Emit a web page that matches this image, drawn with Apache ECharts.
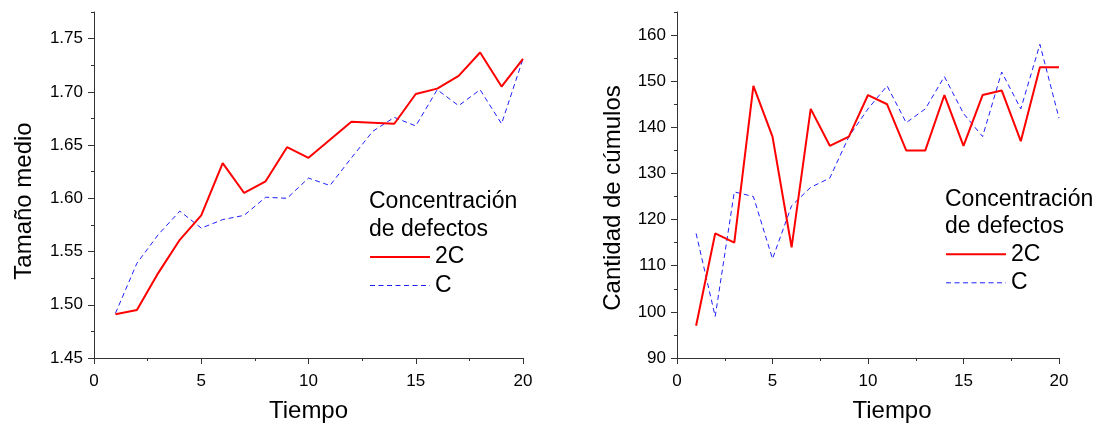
<!DOCTYPE html>
<html>
<head>
<meta charset="utf-8">
<script src="https://cdn.jsdelivr.net/npm/echarts@6/dist/echarts.min.js"></script>
<style>
  html, body { margin: 0; padding: 0; background: #fff; }
  #chart { width: 1101px; height: 426px; }
</style>
</head>
<body>
<div id="chart"></div>
<script>
// Time steps shared by both panels
const tiempo = [1, 2, 3, 4, 5, 6, 7, 8, 9, 10, 11, 12, 13, 14, 15, 16, 17, 18, 19, 20];

// Mean cluster size for each defect concentration
const tamano2C = [1.491, 1.495, 1.530, 1.561, 1.584, 1.633, 1.605, 1.616, 1.648, 1.638,
                  1.655, 1.672, 1.671, 1.670, 1.698, 1.703, 1.715, 1.737, 1.705, 1.731];
const tamanoC  = [1.492, 1.539, 1.566, 1.588, 1.572, 1.580, 1.584, 1.601, 1.600, 1.619,
                  1.612, 1.638, 1.663, 1.676, 1.668, 1.702, 1.687, 1.702, 1.670, 1.731];

// Number of clusters for each defect concentration
const cumulos2C = [97, 117, 115, 149, 138, 114, 144, 136, 138, 147,
                   145, 135, 135, 147, 136, 147, 148, 137, 153, 153];
const cumulosC  = [117, 99, 126, 125, 111.5, 123, 127, 129, 138, 144,
                   149, 141, 144, 151, 143, 138, 152, 144, 158, 142];

// Labelled (major) ticks
const xTicks = [0, 5, 10, 15, 20];
const yTicksTamano = [1.45, 1.50, 1.55, 1.60, 1.65, 1.70, 1.75];
const yTicksCumulos = [90, 100, 110, 120, 130, 140, 150, 160];

const serieNames = ['2C', 'C'];
const legendHeading = 'Concentración\nde defectos';
const xTitle = 'Tiempo';
const yTitles = ['Tamaño medio', 'Cantidad de cúmulos'];

const FONT = '"Liberation Sans", Arial, Helvetica, sans-serif';
const AXIS_COLOR = '#333';
const RED = '#ff0000';
const BLUE = '#1f1fff';

const pairs = (xs, ys) => xs.map((x, i) => [x, ys[i]]);
// Unlabelled ticks half way after each labelled one
const halfSteps = ticks => ticks.map((t, i) => {
  const step = i < ticks.length - 1 ? ticks[i + 1] - t : t - ticks[i - 1];
  return +(t + step / 2).toFixed(6);
});

function xAxisCfg(gridIndex, shift) {
  return {
    type: 'value', gridIndex, position: 'bottom',
    min: xTicks[0], max: xTicks[xTicks.length - 1], interval: xTicks[1] - xTicks[0],
    name: xTitle, nameLocation: 'middle', nameGap: 41,
    nameTextStyle: { fontSize: 24, color: '#000', fontFamily: FONT,
                     padding: shift ? [0, 0, 0, shift * 2] : 0 },
    axisLine: { show: true, onZero: false, lineStyle: { color: AXIS_COLOR, width: 1 } },
    axisTick: { show: true, inside: false, length: 6, lineStyle: { color: AXIS_COLOR } },
    minorTick: { show: true, splitNumber: 2, length: 3, lineStyle: { color: AXIS_COLOR } },
    axisLabel: { fontSize: 17, color: '#000', fontFamily: FONT, margin: 15 },
    splitLine: { show: false }
  };
}

function yAxisCfg(gridIndex, opts) {
  return {
    type: 'value', gridIndex, position: 'left',
    min: opts.ticks[0], max: opts.max,
    name: opts.name, nameLocation: 'middle', nameGap: opts.gap, nameRotate: 90,
    nameTextStyle: { fontSize: 24, color: '#000', fontFamily: FONT,
                     padding: [0, opts.shift * 2, 0, 0] },
    axisLine: { show: true, onZero: false, lineStyle: { color: AXIS_COLOR, width: 1 } },
    axisTick: { show: true, inside: false, length: 6, customValues: opts.ticks,
                lineStyle: { color: AXIS_COLOR } },
    axisLabel: { fontSize: 17, color: '#000', fontFamily: FONT, margin: 11,
                 customValues: opts.ticks, formatter: opts.fmt },
    splitLine: { show: false }
  };
}

// Companion axis carrying only the short unlabelled ticks
function yMinorCfg(gridIndex, opts) {
  return {
    type: 'value', gridIndex, position: 'left',
    min: opts.ticks[0], max: opts.max,
    axisLine: { show: false },
    axisTick: { show: true, inside: false, length: 3, customValues: halfSteps(opts.ticks),
                lineStyle: { color: AXIS_COLOR } },
    axisLabel: { show: false },
    splitLine: { show: false }
  };
}

function lineSeries(name, xi, yi, data, isMain) {
  return {
    type: 'line', name, xAxisIndex: xi, yAxisIndex: yi,
    data, symbol: 'none', animation: false, z: isMain ? 3 : 2,
    lineStyle: isMain
      ? { color: RED, width: 2, type: 'solid' }
      : { color: BLUE, width: 1, type: [5, 3.5] },
    itemStyle: { color: isMain ? RED : BLUE }
  };
}

const hiddenMarker = { color: 'rgba(0,0,0,0)', borderColor: 'rgba(0,0,0,0)', borderWidth: 0, opacity: 0 };

function legendCfg(left, top) {
  return {
    left, top, orient: 'vertical', padding: 0,
    itemWidth: 60, itemHeight: 14, itemGap: 4.5,
    selectedMode: false,
    textStyle: { fontSize: 23, color: '#000', fontFamily: FONT, lineHeight: 24 },
    data: [
      { name: serieNames[0], itemStyle: hiddenMarker, lineStyle: { width: 2 } },
      { name: serieNames[1], itemStyle: hiddenMarker, lineStyle: { width: 1 } }
    ]
  };
}

function headingCfg(left, top) {
  return {
    text: legendHeading, left, top, padding: 0,
    textStyle: { fontSize: 23, fontWeight: 'normal', color: '#000',
                 fontFamily: FONT, lineHeight: 27.5 }
  };
}

const tamanoAxis = { ticks: yTicksTamano, max: 1.775, name: yTitles[0], gap: 58, shift: 16,
                     fmt: v => v.toFixed(2) };
const cumulosAxis = { ticks: yTicksCumulos, max: 165, name: yTitles[1], gap: 52, shift: 13,
                      fmt: v => String(v) };

const chart = echarts.init(document.getElementById('chart'), null, { renderer: 'canvas' });

chart.setOption({
  backgroundColor: '#fff',
  animation: false,
  title: [headingCfg(369, 188), headingCfg(945, 185.5)],
  legend: [legendCfg(369, 245), legendCfg(945, 242.3)],
  grid: [
    { left: 94, top: 12, width: 429, height: 346, outerBoundsMode: 'none' },
    { left: 677, top: 12, width: 382, height: 346, outerBoundsMode: 'none' }
  ],
  xAxis: [xAxisCfg(0, 0), xAxisCfg(1, 24)],
  yAxis: [
    yAxisCfg(0, tamanoAxis),
    yAxisCfg(1, cumulosAxis),
    yMinorCfg(0, tamanoAxis),
    yMinorCfg(1, cumulosAxis)
  ],
  series: [
    lineSeries(serieNames[0], 0, 0, pairs(tiempo, tamano2C), true),
    lineSeries(serieNames[1], 0, 0, pairs(tiempo, tamanoC), false),
    lineSeries(serieNames[0], 1, 1, pairs(tiempo, cumulos2C), true),
    lineSeries(serieNames[1], 1, 1, pairs(tiempo, cumulosC), false)
  ]
});
</script>
</body>
</html>
